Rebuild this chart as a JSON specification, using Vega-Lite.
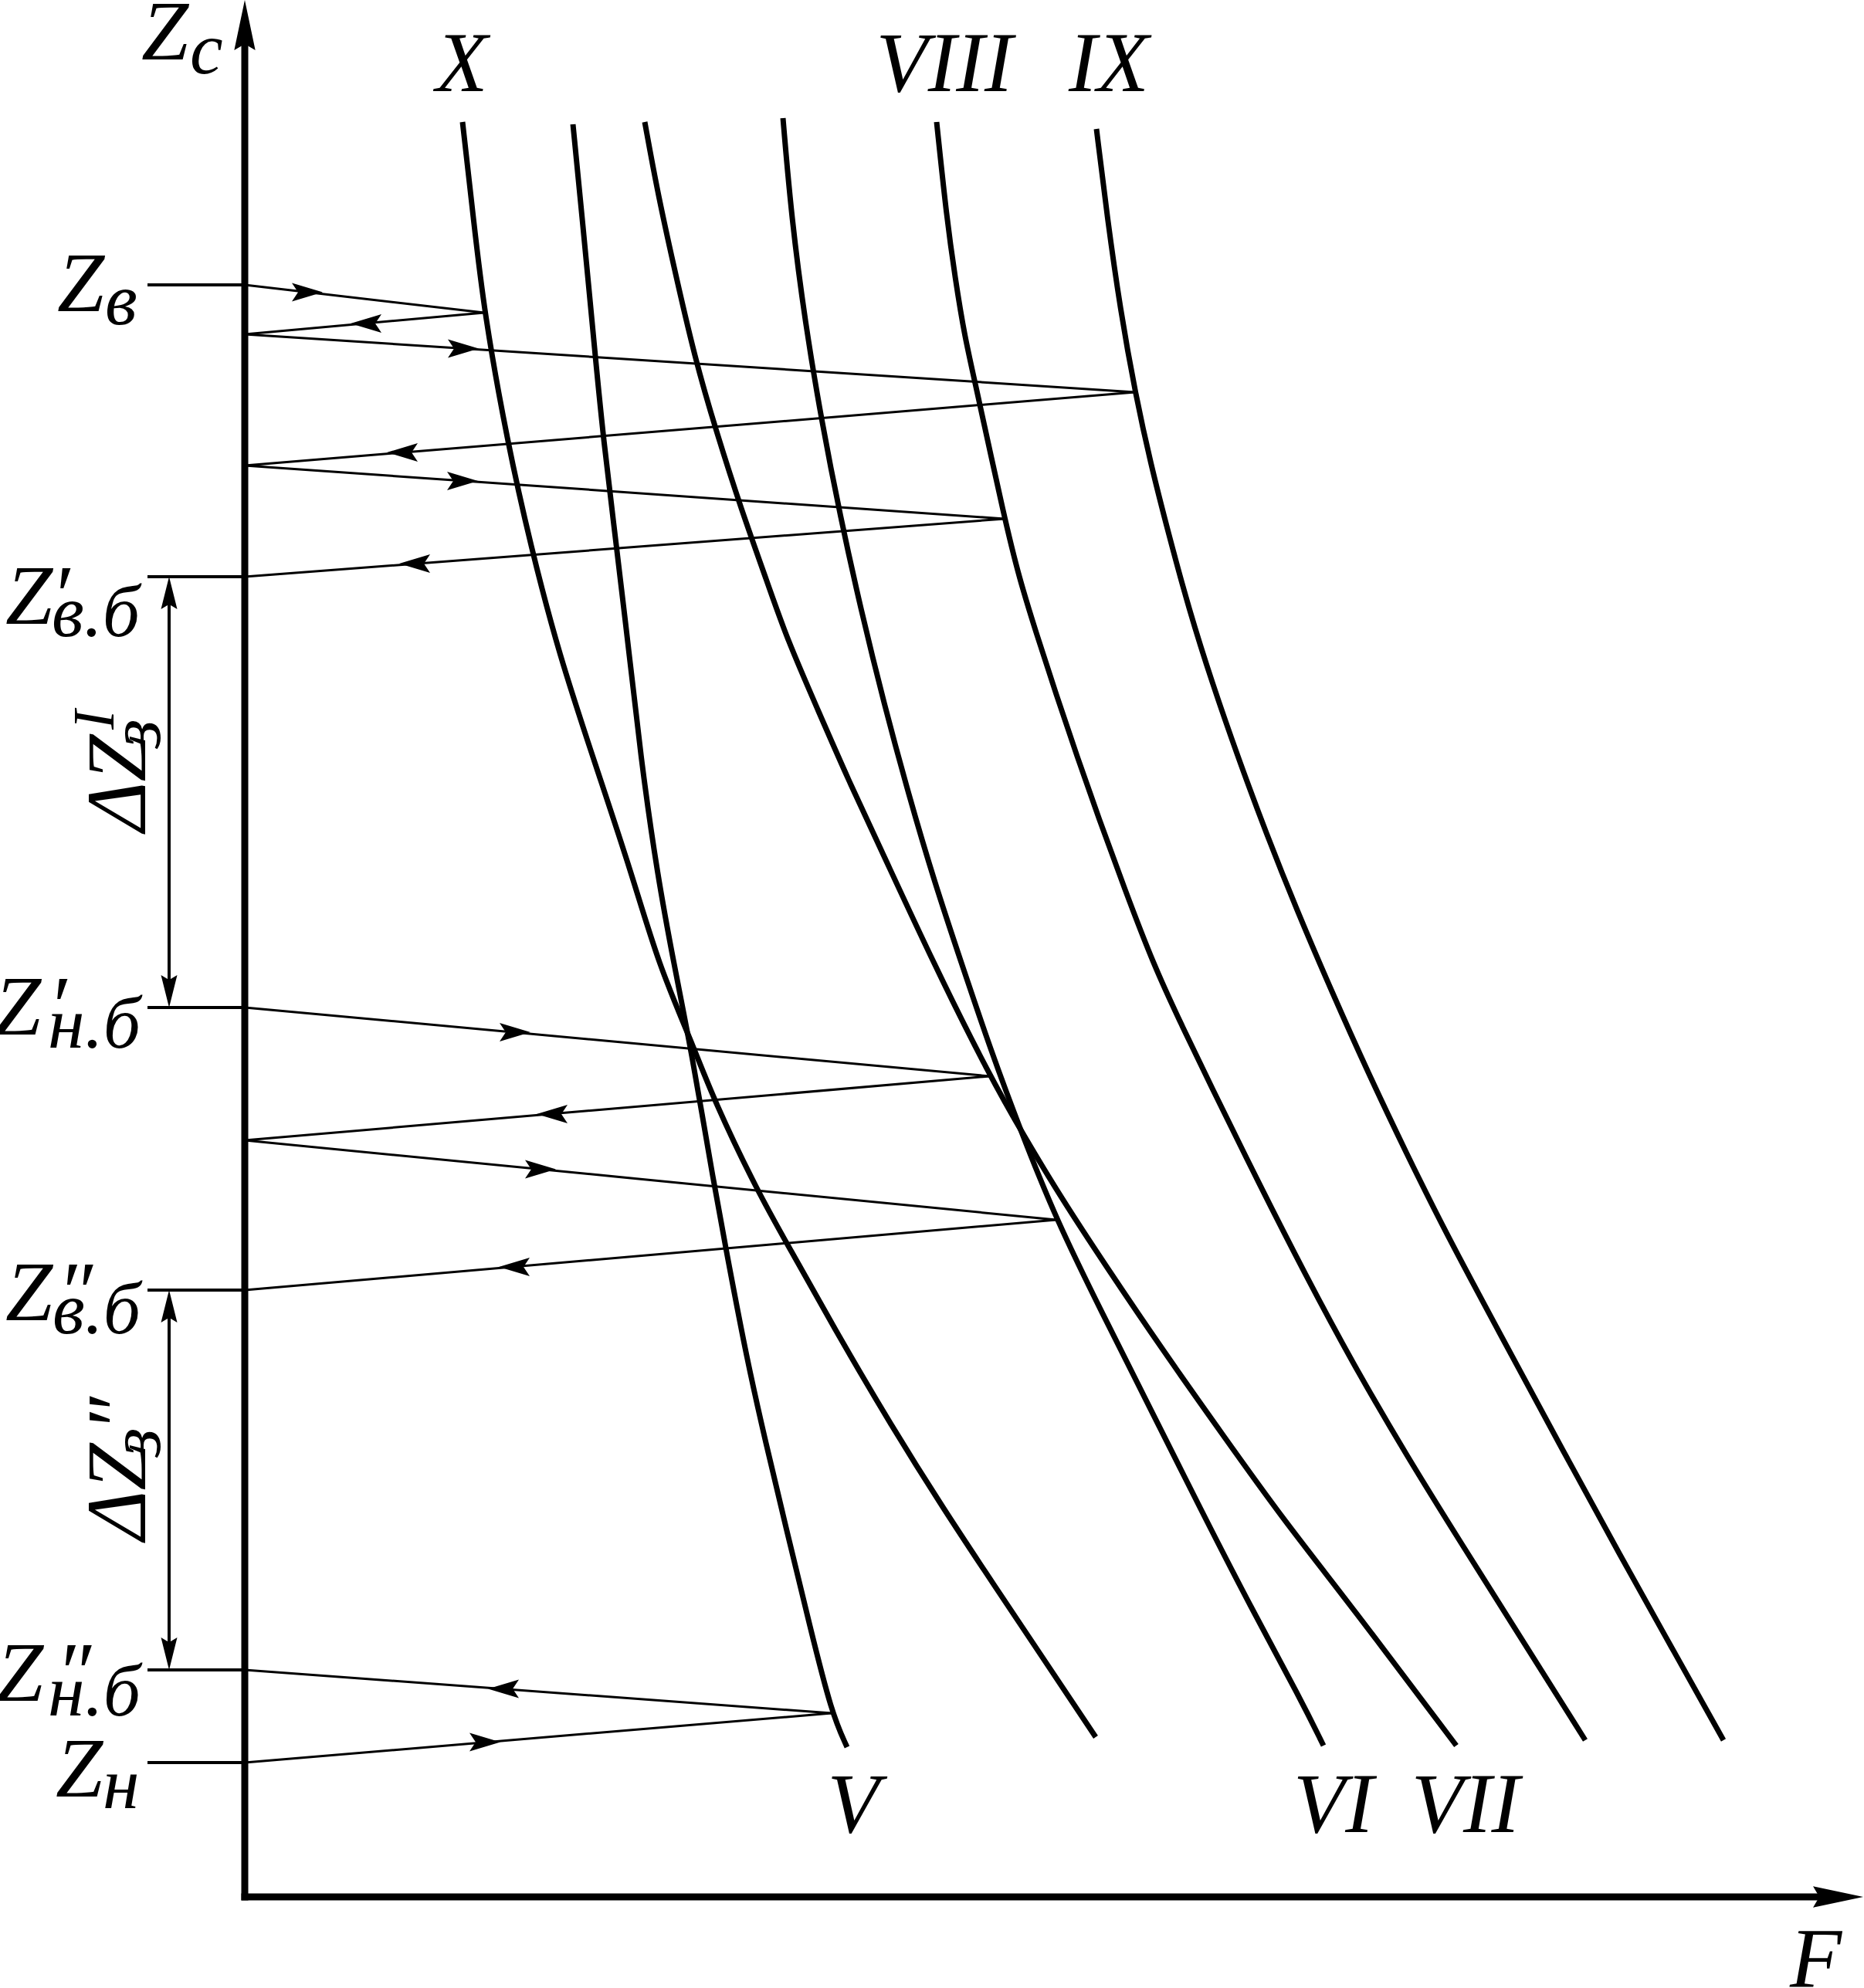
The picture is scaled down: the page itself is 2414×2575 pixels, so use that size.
{
  "$schema": "https://vega.github.io/schema/vega-lite/v6.json",
  "width": 2414,
  "height": 2575,
  "autosize": {"type": "none"},
  "padding": 0,
  "background": "white",
  "config": {"view": {"stroke": null}},
  "encoding": {
    "x": {"field": "F", "type": "quantitative", "scale": {"domain": [-317, 2097], "nice": false, "zero": false}, "axis": null},
    "y": {"field": "Z", "type": "quantitative", "scale": {"domain": [-118, 2457], "nice": false, "zero": false}, "axis": null}
  },
  "resolve": {"scale": {"shape": "independent"}},
  "layer": [
    {
      "data": {"values": [
        {"curve": "X", "F": 282, "Z": 2299}, {"curve": "X", "F": 296, "Z": 2175}, {"curve": "X", "F": 310, "Z": 2052}, {"curve": "X", "F": 340, "Z": 1885}, {"curve": "X", "F": 370, "Z": 1751}, {"curve": "X", "F": 407, "Z": 1609}, {"curve": "X", "F": 454, "Z": 1467}, {"curve": "X", "F": 501, "Z": 1326}, {"curve": "X", "F": 536, "Z": 1207}, {"curve": "X", "F": 579, "Z": 1107}, {"curve": "X", "F": 607, "Z": 1033}, {"curve": "X", "F": 665, "Z": 912}, {"curve": "X", "F": 703, "Z": 845}, {"curve": "X", "F": 770, "Z": 725}, {"curve": "X", "F": 837, "Z": 611}, {"curve": "X", "F": 904, "Z": 504}, {"curve": "X", "F": 971, "Z": 403}, {"curve": "X", "F": 1038, "Z": 303}, {"curve": "X", "F": 1102, "Z": 207},
        {"curve": "V", "F": 425, "Z": 2296}, {"curve": "V", "F": 437, "Z": 2175}, {"curve": "V", "F": 454, "Z": 1995}, {"curve": "V", "F": 464, "Z": 1892}, {"curve": "V", "F": 482, "Z": 1744}, {"curve": "V", "F": 498, "Z": 1609}, {"curve": "V", "F": 514, "Z": 1467}, {"curve": "V", "F": 534, "Z": 1326}, {"curve": "V", "F": 556, "Z": 1207}, {"curve": "V", "F": 579, "Z": 1093}, {"curve": "V", "F": 607, "Z": 926}, {"curve": "V", "F": 627, "Z": 819}, {"curve": "V", "F": 650, "Z": 698}, {"curve": "V", "F": 674, "Z": 591}, {"curve": "V", "F": 703, "Z": 470}, {"curve": "V", "F": 732, "Z": 350}, {"curve": "V", "F": 760, "Z": 238}, {"curve": "V", "F": 780, "Z": 194},
        {"curve": "VII", "F": 518, "Z": 2299}, {"curve": "VII", "F": 534, "Z": 2211}, {"curve": "VII", "F": 554, "Z": 2119}, {"curve": "VII", "F": 583, "Z": 1992}, {"curve": "VII", "F": 611, "Z": 1897}, {"curve": "VII", "F": 643, "Z": 1797}, {"curve": "VII", "F": 677, "Z": 1702}, {"curve": "VII", "F": 702, "Z": 1630}, {"curve": "VII", "F": 742, "Z": 1538}, {"curve": "VII", "F": 782, "Z": 1446}, {"curve": "VII", "F": 822, "Z": 1361}, {"curve": "VII", "F": 893, "Z": 1207}, {"curve": "VII", "F": 965, "Z": 1063}, {"curve": "VII", "F": 1009, "Z": 986}, {"curve": "VII", "F": 1057, "Z": 906}, {"curve": "VII", "F": 1114, "Z": 819}, {"curve": "VII", "F": 1191, "Z": 705}, {"curve": "VII", "F": 1267, "Z": 598}, {"curve": "VII", "F": 1344, "Z": 490}, {"curve": "VII", "F": 1433, "Z": 377}, {"curve": "VII", "F": 1569, "Z": 196},
        {"curve": "VI", "F": 697, "Z": 2304}, {"curve": "VI", "F": 708, "Z": 2175}, {"curve": "VI", "F": 726, "Z": 2037}, {"curve": "VI", "F": 747, "Z": 1912}, {"curve": "VI", "F": 771, "Z": 1789}, {"curve": "VI", "F": 798, "Z": 1667}, {"curve": "VI", "F": 828, "Z": 1545}, {"curve": "VI", "F": 860, "Z": 1427}, {"curve": "VI", "F": 893, "Z": 1315}, {"curve": "VI", "F": 929, "Z": 1207}, {"curve": "VI", "F": 966, "Z": 1097}, {"curve": "VI", "F": 1005, "Z": 992}, {"curve": "VI", "F": 1051, "Z": 877}, {"curve": "VI", "F": 1110, "Z": 757}, {"curve": "VI", "F": 1173, "Z": 632}, {"curve": "VI", "F": 1238, "Z": 502}, {"curve": "VI", "F": 1303, "Z": 375}, {"curve": "VI", "F": 1367, "Z": 257}, {"curve": "VI", "F": 1397, "Z": 196},
        {"curve": "VIII", "F": 896, "Z": 2299}, {"curve": "VIII", "F": 909, "Z": 2175}, {"curve": "VIII", "F": 920, "Z": 2097}, {"curve": "VIII", "F": 932, "Z": 2022}, {"curve": "VIII", "F": 948, "Z": 1952}, {"curve": "VIII", "F": 984, "Z": 1785}, {"curve": "VIII", "F": 1003, "Z": 1708}, {"curve": "VIII", "F": 1025, "Z": 1637}, {"curve": "VIII", "F": 1051, "Z": 1557}, {"curve": "VIII", "F": 1078, "Z": 1477}, {"curve": "VIII", "F": 1106, "Z": 1397}, {"curve": "VIII", "F": 1139, "Z": 1307}, {"curve": "VIII", "F": 1177, "Z": 1207}, {"curve": "VIII", "F": 1213, "Z": 1130}, {"curve": "VIII", "F": 1248, "Z": 1057}, {"curve": "VIII", "F": 1315, "Z": 921}, {"curve": "VIII", "F": 1373, "Z": 807}, {"curve": "VIII", "F": 1435, "Z": 691}, {"curve": "VIII", "F": 1505, "Z": 571}, {"curve": "VIII", "F": 1576, "Z": 457}, {"curve": "VIII", "F": 1648, "Z": 343}, {"curve": "VIII", "F": 1736, "Z": 203},
        {"curve": "IX", "F": 1103, "Z": 2290}, {"curve": "IX", "F": 1117, "Z": 2175}, {"curve": "IX", "F": 1134, "Z": 2055}, {"curve": "IX", "F": 1153, "Z": 1949}, {"curve": "IX", "F": 1173, "Z": 1857}, {"curve": "IX", "F": 1196, "Z": 1767}, {"curve": "IX", "F": 1223, "Z": 1667}, {"curve": "IX", "F": 1253, "Z": 1572}, {"curve": "IX", "F": 1286, "Z": 1477}, {"curve": "IX", "F": 1323, "Z": 1377}, {"curve": "IX", "F": 1363, "Z": 1277}, {"curve": "IX", "F": 1408, "Z": 1172}, {"curve": "IX", "F": 1455, "Z": 1067}, {"curve": "IX", "F": 1505, "Z": 962}, {"curve": "IX", "F": 1556, "Z": 859}, {"curve": "IX", "F": 1628, "Z": 725}, {"curve": "IX", "F": 1705, "Z": 582}, {"curve": "IX", "F": 1783, "Z": 439}, {"curve": "IX", "F": 1848, "Z": 323}, {"curve": "IX", "F": 1915, "Z": 203}
      ]},
      "mark": {"type": "line", "interpolate": "basis", "color": "black", "strokeWidth": 7, "strokeCap": "butt"},
      "encoding": {
        "detail": {"field": "curve"},
        "order": {"field": "Z", "sort": "descending"}
      }
    },
    {
      "data": {"values": [
        {"F": 0, "Z": 2088, "F2": 310, "Z2": 2052},
        {"F": 310, "Z": 2052, "F2": 0, "Z2": 2024},
        {"F": 0, "Z": 2024, "F2": 1153, "Z2": 1949},
        {"F": 1153, "Z": 1949, "F2": 0, "Z2": 1854},
        {"F": 0, "Z": 1854, "F2": 984, "Z2": 1785},
        {"F": 984, "Z": 1785, "F2": 0, "Z2": 1710},
        {"F": 0, "Z": 1152, "F2": 965, "Z2": 1063},
        {"F": 965, "Z": 1063, "F2": 0, "Z2": 980},
        {"F": 0, "Z": 980, "F2": 1051, "Z2": 877},
        {"F": 1051, "Z": 877, "F2": 0, "Z2": 786},
        {"F": 0, "Z": 174, "F2": 760, "Z2": 238},
        {"F": 760, "Z": 238, "F2": 0, "Z2": 294}
      ]},
      "mark": {"type": "rule", "color": "black", "strokeWidth": 3},
      "encoding": {
        "x2": {"field": "F2"},
        "y2": {"field": "Z2"}
      }
    },
    {
      "data": {"values": [
        {"F": 81, "Z": 2078.5, "dir": "right"},
        {"F": 157, "Z": 2038, "dir": "left"},
        {"F": 283, "Z": 2005.5, "dir": "right"},
        {"F": 204, "Z": 1871, "dir": "left"},
        {"F": 282, "Z": 1834, "dir": "right"},
        {"F": 220, "Z": 1727, "dir": "left"},
        {"F": 350, "Z": 1120, "dir": "right"},
        {"F": 398, "Z": 1014, "dir": "left"},
        {"F": 383, "Z": 942.5, "dir": "right"},
        {"F": 349, "Z": 816, "dir": "left"},
        {"F": 311, "Z": 200.5, "dir": "right"},
        {"F": 335, "Z": 269.5, "dir": "left"}
      ]},
      "mark": {"type": "point", "filled": true, "opacity": 1, "color": "black", "size": 1600},
      "encoding": {
        "shape": {"field": "dir", "type": "nominal", "legend": null, "scale": {"domain": ["right", "left"], "range": ["M1,0L-1,-0.6L-0.6,0L-1,0.6Z", "M-1,0L1,-0.6L0.6,0L1,0.6Z"]}}
      }
    },
    {
      "data": {"values": [
        {"F": 0, "Z": 0, "F2": 0, "Z2": 2400},
        {"F": 0, "Z": 0, "F2": 2045, "Z2": 0}
      ]},
      "mark": {"type": "rule", "color": "black", "strokeWidth": 9, "strokeCap": "square"},
      "encoding": {
        "x2": {"field": "F2"},
        "y2": {"field": "Z2"}
      }
    },
    {
      "data": {"values": [
        {"F": 0, "Z": 2424.5, "dir": "up"},
        {"F": 2063.5, "Z": 0, "dir": "right"}
      ]},
      "mark": {"type": "point", "filled": true, "opacity": 1, "color": "black", "size": 4225},
      "encoding": {
        "shape": {"field": "dir", "type": "nominal", "legend": null, "scale": {"domain": ["up", "right"], "range": ["M0,-1L-0.42,1L0,0.75L0.42,1Z", "M1,0L-1,-0.42L-0.75,0L-1,0.42Z"]}}
      }
    },
    {
      "data": {"values": [
        {"F": -126, "Z": 2088, "F2": 0, "Z2": 2088},
        {"F": -126, "Z": 1710, "F2": 0, "Z2": 1710},
        {"F": -126, "Z": 1152, "F2": 0, "Z2": 1152},
        {"F": -126, "Z": 786, "F2": 0, "Z2": 786},
        {"F": -126, "Z": 294, "F2": 0, "Z2": 294},
        {"F": -126, "Z": 174, "F2": 0, "Z2": 174},
        {"F": -98, "Z": 1700, "F2": -98, "Z2": 1162},
        {"F": -98, "Z": 776, "F2": -98, "Z2": 304}
      ]},
      "mark": {"type": "rule", "color": "black", "strokeWidth": 4},
      "encoding": {
        "x2": {"field": "F2"},
        "y2": {"field": "Z2"}
      }
    },
    {
      "data": {"values": [
        {"F": -98, "Z": 1689, "dir": "up"},
        {"F": -98, "Z": 1173, "dir": "down"},
        {"F": -98, "Z": 765, "dir": "up"},
        {"F": -98, "Z": 315, "dir": "down"}
      ]},
      "mark": {"type": "point", "filled": true, "opacity": 1, "color": "black", "size": 1764},
      "encoding": {
        "shape": {"field": "dir", "type": "nominal", "legend": null, "scale": {"domain": ["up", "down"], "range": ["M0,-1L-0.5,1L0,0.7L0.5,1Z", "M0,1L-0.5,-1L0,-0.7L0.5,-1Z"]}}
      }
    },
    {
      "data": {"values": [
        {"t": "Z", "F": -134, "Z": 2380},
        {"t": "Z", "F": -243, "Z": 2054},
        {"t": "Z", "F": -310, "Z": 1649},
        {"t": "′", "F": -251, "Z": 1649},
        {"t": "Z", "F": -325, "Z": 1117},
        {"t": "′", "F": -255, "Z": 1117},
        {"t": "Z", "F": -310, "Z": 747},
        {"t": "″", "F": -243, "Z": 747},
        {"t": "Z", "F": -322, "Z": 254},
        {"t": "″", "F": -245, "Z": 254},
        {"t": "Z", "F": -245, "Z": 130},
        {"t": "F", "F": 2001, "Z": -116}
      ]},
      "mark": {"type": "text", "font": "Liberation Serif, Times New Roman, serif", "fontStyle": "italic", "fontSize": 110, "align": "left", "baseline": "alphabetic", "color": "black"},
      "encoding": {"text": {"field": "t"}}
    },
    {
      "data": {"values": [
        {"t": "X", "F": 281, "Z": 2339},
        {"t": "VIII", "F": 906, "Z": 2339},
        {"t": "IX", "F": 1119, "Z": 2339},
        {"t": "V", "F": 788, "Z": 84},
        {"t": "VI", "F": 1410, "Z": 84},
        {"t": "VII", "F": 1581, "Z": 84}
      ]},
      "mark": {"type": "text", "font": "Liberation Serif, Times New Roman, serif", "fontStyle": "italic", "fontSize": 110, "align": "center", "baseline": "alphabetic", "color": "black"},
      "encoding": {"text": {"field": "t"}}
    },
    {
      "data": {"values": [
        {"t": "с", "F": -71, "Z": 2362},
        {"t": "в", "F": -181, "Z": 2037},
        {"t": "в.б", "F": -250, "Z": 1633},
        {"t": "н.б", "F": -255, "Z": 1100},
        {"t": "в.б", "F": -249, "Z": 730},
        {"t": "н.б", "F": -255, "Z": 235},
        {"t": "н", "F": -184, "Z": 115}
      ]},
      "mark": {"type": "text", "font": "Liberation Serif, Times New Roman, serif", "fontStyle": "italic", "fontSize": 96, "align": "left", "baseline": "alphabetic", "color": "black"},
      "encoding": {"text": {"field": "t"}}
    },
    {
      "data": {"values": [
        {"t": "ΔZ", "F": -129, "Z": 1380},
        {"t": "ΔZ", "F": -129, "Z": 462},
        {"t": "″", "F": -129, "Z": 602}
      ]},
      "mark": {"type": "text", "font": "Liberation Serif, Times New Roman, serif", "fontStyle": "italic", "fontSize": 110, "align": "left", "baseline": "alphabetic", "angle": 270, "color": "black"},
      "encoding": {"text": {"field": "t"}}
    },
    {
      "data": {"values": [
        {"t": "з", "F": -110, "Z": 1488},
        {"t": "з", "F": -110, "Z": 570}
      ]},
      "mark": {"type": "text", "font": "Liberation Serif, Times New Roman, serif", "fontStyle": "italic", "fontSize": 96, "align": "left", "baseline": "alphabetic", "angle": 270, "color": "black"},
      "encoding": {"text": {"field": "t"}}
    },
    {
      "data": {"values": [
        {"t": "I", "F": -170, "Z": 1512}
      ]},
      "mark": {"type": "text", "font": "Liberation Serif, Times New Roman, serif", "fontStyle": "italic", "fontSize": 76, "align": "left", "baseline": "alphabetic", "angle": 270, "color": "black"},
      "encoding": {"text": {"field": "t"}}
    }
  ]
}
